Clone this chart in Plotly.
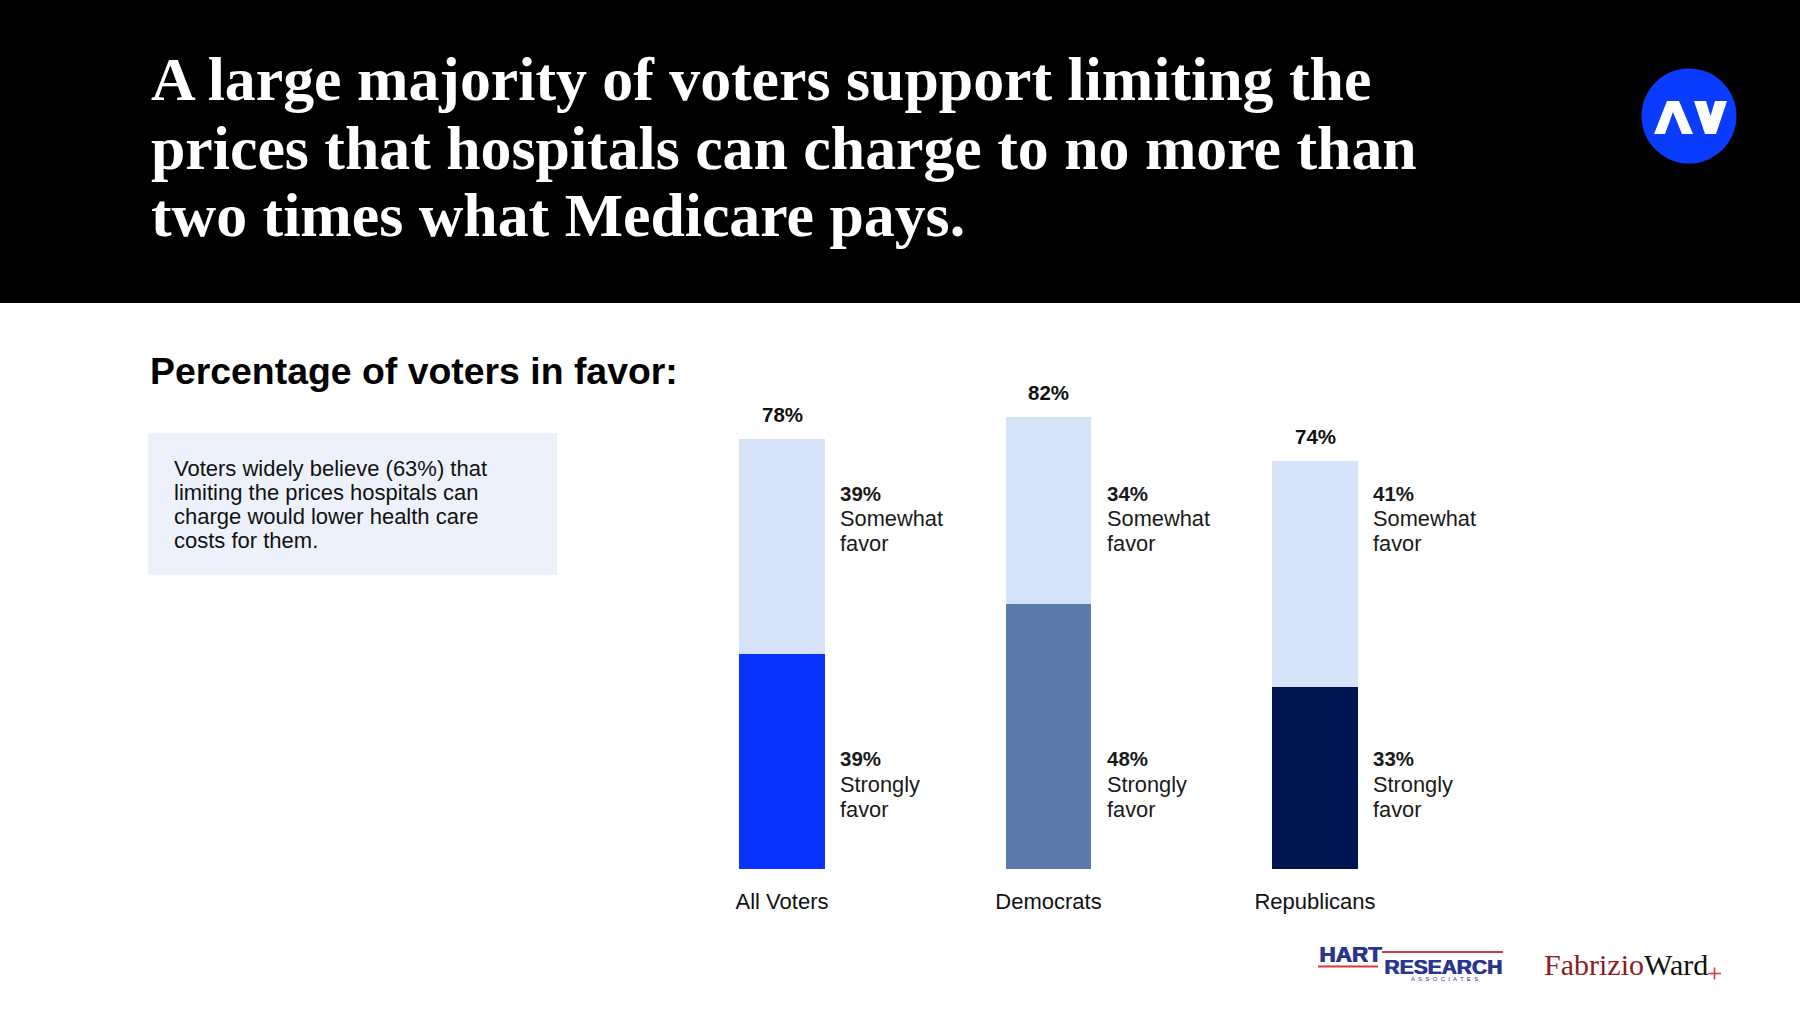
import plotly.graph_objects as go

W, H = 1800, 1013

# ---------------- data ----------------
categories = ["All Voters", "Democrats", "Republicans"]
strongly = [39, 48, 33]
somewhat = [39, 34, 41]
totals = [78, 82, 74]
strong_colors = ["#0A33FF", "#5B7BAA", "#001452"]
somewhat_color = "#D6E2F8"

title_lines = [
    "A large majority of voters support limiting the",
    "prices that hospitals can charge to no more than",
    "two times what Medicare pays.",
]
subtitle = "Percentage of voters in favor:"
box_lines = [
    "Voters widely believe (63%) that",
    "limiting the prices hospitals can",
    "charge would lower health care",
    "costs for them.",
]


def px(x):
    return x / W


def py(y):
    return 1 - y / H


SANS = "Liberation Sans, Arial, sans-serif"
SERIF = "Liberation Serif, Times New Roman, serif"

fig = go.Figure()
fig.add_trace(go.Bar(
    x=categories, y=strongly, name="Strongly favor",
    marker=dict(color=strong_colors, line=dict(width=0)),
    width=0.32, hoverinfo="skip",
))
fig.add_trace(go.Bar(
    x=categories, y=somewhat, name="Somewhat favor",
    marker=dict(color=somewhat_color, line=dict(width=0)),
    width=0.32, hoverinfo="skip",
))

shapes = []
ann = []

# header band
shapes.append(dict(type="rect", xref="paper", yref="paper", x0=0, x1=1,
                   y0=py(303), y1=1, fillcolor="#000000", line=dict(width=0), layer="below"))
# logo circle
shapes.append(dict(type="circle", xref="paper", yref="paper",
                   x0=px(1641.5), x1=px(1736.5), y0=py(163.5), y1=py(68.5),
                   fillcolor="#0A3CFF", line=dict(width=0)))


def path(pts):
    s = ""
    for i, (x, y) in enumerate(pts):
        s += ("M " if i == 0 else " L ") + f"{px(x):.5f} {py(y):.5f}"
    return s + " Z"


shapes.append(dict(type="path", xref="paper", yref="paper",
                   path=path([(1654, 134), (1667, 101), (1679, 101), (1693, 134),
                              (1682, 134), (1673, 112), (1665, 134)]),
                   fillcolor="white", line=dict(width=0)))
shapes.append(dict(type="path", xref="paper", yref="paper",
                   path=path([(1694, 101), (1706, 101), (1710.5, 116), (1715, 101),
                              (1727, 101), (1716, 134), (1705, 134)]),
                   fillcolor="white", line=dict(width=0)))

# title
for i, (t, yc) in enumerate(zip(title_lines, [80, 149, 216])):
    ann.append(dict(xref="paper", yref="paper", x=px(149), y=py(yc - 1), text=f"<b>{t}</b>",
                    showarrow=False, xanchor="left", yanchor="middle",
                    font=dict(family=SERIF, size=61.8, color="white")))

# subtitle
ann.append(dict(xref="paper", yref="paper", x=px(148), y=py(371), text=f"<b>{subtitle}</b>",
                showarrow=False, xanchor="left", yanchor="middle",
                font=dict(family=SANS, size=37.4, color="#000000")))

# info box
shapes.append(dict(type="rect", xref="paper", yref="paper", x0=px(148), x1=px(557),
                   y0=py(575), y1=py(433), fillcolor="#EDF1FB", line=dict(width=0), layer="below"))
for t, yc in zip(box_lines, [467, 491, 515, 539]):
    ann.append(dict(xref="paper", yref="paper", x=px(172), y=py(yc + 1), text=t,
                    showarrow=False, xanchor="left", yanchor="middle",
                    font=dict(family=SANS, size=22, color="#111111")))

# totals above bars
for c, tot in zip(categories, totals):
    ann.append(dict(xref="x", yref="y", x=c, y=tot, yshift=24, text=f"<b>{tot}%</b>",
                    showarrow=False, xanchor="center", yanchor="middle",
                    font=dict(family=SANS, size=20.5, color="#111111")))

# segment labels to the right of the bars
for c, s_val, w_val in zip(categories, strongly, somewhat):
    for (txt, bold, yc) in [(f"{w_val}%", True, 493), ("Somewhat", False, 518.5), ("favor", False, 543.5),
                            (f"{s_val}%", True, 758), ("Strongly", False, 784), ("favor", False, 809)]:
        ann.append(dict(xref="x", yref="paper", x=c, xshift=56, y=py(yc),
                        text=f"<b>{txt}</b>" if bold else txt,
                        showarrow=False, xanchor="left", yanchor="middle",
                        font=dict(family=SANS, size=20.5 if bold else 21.8, color="#1a1a1a")))

# footer logos: Hart Research Associates
NAVY = "#2A3590"
RED = "#D23A3F"
for dx in (0, 0.9):
    ann.append(dict(xref="paper", yref="paper", x=px(1317), y=py(954), xshift=dx, text="<b>HART</b>",
                    showarrow=False, xanchor="left", yanchor="middle",
                    font=dict(family=SANS, size=22.5, color=NAVY)))
    ann.append(dict(xref="paper", yref="paper", x=px(1382), y=py(966), xshift=dx, text="<b>RESEARCH</b>",
                    showarrow=False, xanchor="left", yanchor="middle",
                    font=dict(family=SANS, size=21, color=NAVY)))
ann.append(dict(xref="paper", yref="paper", x=px(1444), y=py(979), text="A  S  S  O  C  I  A  T  E  S",
                showarrow=False, xanchor="center", yanchor="middle",
                font=dict(family=SANS, size=6, color=NAVY)))
shapes.append(dict(type="line", xref="paper", yref="paper", x0=px(1318), x1=px(1378),
                   y0=py(966.5), y1=py(966.5), line=dict(color=RED, width=2)))
shapes.append(dict(type="line", xref="paper", yref="paper", x0=px(1382), x1=px(1503),
                   y0=py(952), y1=py(952), line=dict(color=RED, width=2)))

# Fabrizio Ward
ann.append(dict(xref="paper", yref="paper", x=px(1542), y=py(964),
                text="<span style='color:#8E1B22'>Fabrizio</span><span style='color:#111111'>Ward</span>",
                showarrow=False, xanchor="left", yanchor="middle",
                font=dict(family=SERIF, size=30)))
shapes.append(dict(type="line", xref="paper", yref="paper", x0=px(1708), x1=px(1721),
                   y0=py(973.5), y1=py(973.5), line=dict(color=RED, width=1.5)))
shapes.append(dict(type="line", xref="paper", yref="paper", x0=px(1714.5), x1=px(1714.5),
                   y0=py(967.5), y1=py(979.5), line=dict(color=RED, width=1.5)))

fig.update_layout(
    width=W, height=H,
    margin=dict(l=0, r=0, t=0, b=0),
    paper_bgcolor="white", plot_bgcolor="white",
    barmode="stack", showlegend=False,
    shapes=shapes, annotations=ann,
    xaxis=dict(domain=[px(648.75), px(1448.25)], range=[-0.5, 2.5], type="category",
               categoryorder="array", categoryarray=categories,
               showgrid=False, zeroline=False, showline=False,
               ticks="outside", ticklen=13, tickcolor="rgba(0,0,0,0)",
               tickfont=dict(family=SANS, size=22, color="#111111"), fixedrange=True),
    yaxis=dict(domain=[py(869), py(317.5)], range=[0, 100], visible=False, fixedrange=True),
    font=dict(family=SANS),
)

fig.write_html("out.html", config={"displayModeBar": False})
